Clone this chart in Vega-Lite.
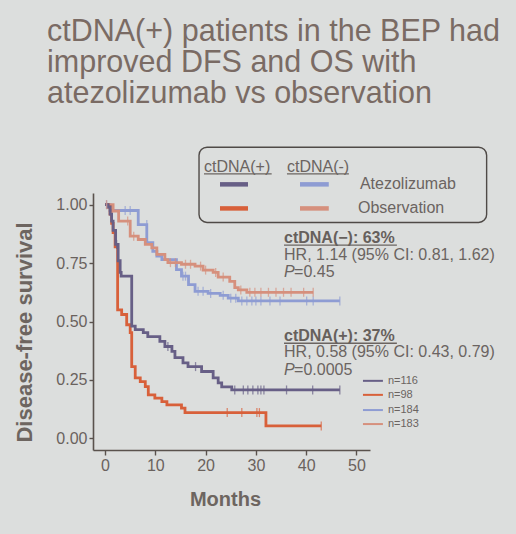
{
  "$schema": "https://vega.github.io/schema/vega-lite/v6.json",
  "width": 277,
  "height": 257,
  "autosize": "none",
  "padding": {"left": 93, "top": 193, "right": 146, "bottom": 84},
  "background": "#dcdedd",
  "config": {"view": {"stroke": null}, "font": "Liberation Sans"},
  "title": {
    "text": ["ctDNA(+) patients in the BEP had", "improved DFS and OS with", "atezolizumab vs observation"],
    "anchor": "start",
    "frame": "group",
    "dx": -46,
    "offset": 37,
    "fontSize": 30.5,
    "fontWeight": "normal",
    "lineHeight": 31,
    "color": "#7a6b64",
    "font": "Liberation Sans"
  },
  "datasets": {
    "km": [
      {"g": "ba", "t": 0, "s": 1}, {"g": "ba", "t": 1.0, "s": 0.975}, {"g": "ba", "t": 6.6, "s": 0.915}, {"g": "ba", "t": 8.3, "s": 0.838},
      {"g": "ba", "t": 9.5, "s": 0.8}, {"g": "ba", "t": 10.3, "s": 0.78}, {"g": "ba", "t": 11.3, "s": 0.765}, {"g": "ba", "t": 14.2, "s": 0.722},
      {"g": "ba", "t": 15.2, "s": 0.694}, {"g": "ba", "t": 16.6, "s": 0.658}, {"g": "ba", "t": 17.9, "s": 0.629}, {"g": "ba", "t": 20.5, "s": 0.62},
      {"g": "ba", "t": 22.9, "s": 0.612}, {"g": "ba", "t": 24.5, "s": 0.6}, {"g": "ba", "t": 26.5, "s": 0.588}, {"g": "ba", "t": 46.7, "s": 0.588},
      {"g": "so", "t": 0, "s": 1}, {"g": "so", "t": 1.6, "s": 0.973}, {"g": "so", "t": 2.7, "s": 0.93}, {"g": "so", "t": 5.0, "s": 0.865},
      {"g": "so", "t": 6.6, "s": 0.851}, {"g": "so", "t": 8.0, "s": 0.83}, {"g": "so", "t": 9.3, "s": 0.815}, {"g": "so", "t": 10.3, "s": 0.787},
      {"g": "so", "t": 11.9, "s": 0.765}, {"g": "so", "t": 12.5, "s": 0.752}, {"g": "so", "t": 15.2, "s": 0.745}, {"g": "so", "t": 17.9, "s": 0.737},
      {"g": "so", "t": 19.5, "s": 0.72}, {"g": "so", "t": 21.5, "s": 0.71}, {"g": "so", "t": 22.5, "s": 0.69}, {"g": "so", "t": 24.8, "s": 0.672},
      {"g": "so", "t": 25.8, "s": 0.645}, {"g": "so", "t": 26.5, "s": 0.635}, {"g": "so", "t": 28.2, "s": 0.625}, {"g": "so", "t": 41.4, "s": 0.625},
      {"g": "ro", "t": 0, "s": 1}, {"g": "ro", "t": 0.6, "s": 0.99}, {"g": "ro", "t": 1.0, "s": 0.96}, {"g": "ro", "t": 1.3, "s": 0.92},
      {"g": "ro", "t": 1.6, "s": 0.88}, {"g": "ro", "t": 2.0, "s": 0.82}, {"g": "ro", "t": 2.5, "s": 0.55}, {"g": "ro", "t": 3.3, "s": 0.53},
      {"g": "ro", "t": 4.3, "s": 0.486}, {"g": "ro", "t": 5.0, "s": 0.452}, {"g": "ro", "t": 5.3, "s": 0.307}, {"g": "ro", "t": 6.0, "s": 0.259},
      {"g": "ro", "t": 7.0, "s": 0.243}, {"g": "ro", "t": 8.0, "s": 0.221}, {"g": "ro", "t": 8.6, "s": 0.186}, {"g": "ro", "t": 9.9, "s": 0.172},
      {"g": "ro", "t": 11.3, "s": 0.157}, {"g": "ro", "t": 12.3, "s": 0.143}, {"g": "ro", "t": 15.2, "s": 0.129}, {"g": "ro", "t": 15.9, "s": 0.11},
      {"g": "ro", "t": 32.0, "s": 0.053}, {"g": "ro", "t": 43.0, "s": 0.053},
      {"g": "pa", "t": 0, "s": 1}, {"g": "pa", "t": 0.6, "s": 0.99}, {"g": "pa", "t": 1.0, "s": 0.96}, {"g": "pa", "t": 1.3, "s": 0.93},
      {"g": "pa", "t": 1.6, "s": 0.89}, {"g": "pa", "t": 2.1, "s": 0.83}, {"g": "pa", "t": 2.6, "s": 0.76}, {"g": "pa", "t": 3.0, "s": 0.71},
      {"g": "pa", "t": 3.2, "s": 0.694}, {"g": "pa", "t": 5.3, "s": 0.48}, {"g": "pa", "t": 6.0, "s": 0.465}, {"g": "pa", "t": 7.6, "s": 0.452},
      {"g": "pa", "t": 8.5, "s": 0.435}, {"g": "pa", "t": 10.9, "s": 0.415}, {"g": "pa", "t": 11.9, "s": 0.393}, {"g": "pa", "t": 13.3, "s": 0.372},
      {"g": "pa", "t": 13.9, "s": 0.345}, {"g": "pa", "t": 15.5, "s": 0.323}, {"g": "pa", "t": 16.5, "s": 0.307}, {"g": "pa", "t": 19.2, "s": 0.286},
      {"g": "pa", "t": 21.5, "s": 0.259}, {"g": "pa", "t": 22.5, "s": 0.237}, {"g": "pa", "t": 23.2, "s": 0.22}, {"g": "pa", "t": 25.2, "s": 0.207},
      {"g": "pa", "t": 46.7, "s": 0.207}
    ],
    "censored": [
      {"g": "ba", "t": 0.3, "s": 1}, {"g": "ba", "t": 4, "s": 0.975}, {"g": "ba", "t": 5, "s": 0.975}, {"g": "ba", "t": 8.3, "s": 0.915},
      {"g": "ba", "t": 15.5, "s": 0.694}, {"g": "ba", "t": 16, "s": 0.694}, {"g": "ba", "t": 18.5, "s": 0.629}, {"g": "ba", "t": 19.5, "s": 0.629},
      {"g": "ba", "t": 21, "s": 0.62}, {"g": "ba", "t": 23.5, "s": 0.612}, {"g": "ba", "t": 25, "s": 0.6}, {"g": "ba", "t": 26, "s": 0.6},
      {"g": "ba", "t": 27.2, "s": 0.588}, {"g": "ba", "t": 28.2, "s": 0.588}, {"g": "ba", "t": 29.2, "s": 0.588}, {"g": "ba", "t": 30, "s": 0.588},
      {"g": "ba", "t": 31, "s": 0.588}, {"g": "ba", "t": 32.8, "s": 0.588}, {"g": "ba", "t": 34.8, "s": 0.588}, {"g": "ba", "t": 40.1, "s": 0.588},
      {"g": "ba", "t": 41.4, "s": 0.588}, {"g": "ba", "t": 46.7, "s": 0.588},
      {"g": "so", "t": 0.3, "s": 1}, {"g": "so", "t": 4.5, "s": 0.93}, {"g": "so", "t": 5.7, "s": 0.865}, {"g": "so", "t": 13, "s": 0.752},
      {"g": "so", "t": 14, "s": 0.752}, {"g": "so", "t": 16, "s": 0.745}, {"g": "so", "t": 17, "s": 0.745}, {"g": "so", "t": 19, "s": 0.737},
      {"g": "so", "t": 20, "s": 0.72}, {"g": "so", "t": 22, "s": 0.71}, {"g": "so", "t": 23.5, "s": 0.69}, {"g": "so", "t": 27, "s": 0.635},
      {"g": "so", "t": 28.8, "s": 0.625}, {"g": "so", "t": 29.8, "s": 0.625}, {"g": "so", "t": 31, "s": 0.625}, {"g": "so", "t": 32.5, "s": 0.625},
      {"g": "so", "t": 34, "s": 0.625}, {"g": "so", "t": 35.5, "s": 0.625}, {"g": "so", "t": 37, "s": 0.625}, {"g": "so", "t": 39.5, "s": 0.625},
      {"g": "so", "t": 41.4, "s": 0.625},
      {"g": "ro", "t": 24.3, "s": 0.11}, {"g": "ro", "t": 27.2, "s": 0.11}, {"g": "ro", "t": 30.2, "s": 0.11}, {"g": "ro", "t": 30.7, "s": 0.11},
      {"g": "ro", "t": 43, "s": 0.053},
      {"g": "pa", "t": 2.3, "s": 0.83}, {"g": "pa", "t": 12.5, "s": 0.393}, {"g": "pa", "t": 18, "s": 0.307}, {"g": "pa", "t": 25.8, "s": 0.207},
      {"g": "pa", "t": 27.5, "s": 0.207}, {"g": "pa", "t": 28.4, "s": 0.207}, {"g": "pa", "t": 29.4, "s": 0.207}, {"g": "pa", "t": 30.4, "s": 0.207},
      {"g": "pa", "t": 31, "s": 0.207}, {"g": "pa", "t": 31.6, "s": 0.207}, {"g": "pa", "t": 36.1, "s": 0.207}, {"g": "pa", "t": 41.3, "s": 0.207},
      {"g": "pa", "t": 46.7, "s": 0.207}
    ],
    "heads": [
      {"t": 35.6, "s": 0.838, "label": "ctDNA(−): 63%"},
      {"t": 35.6, "s": 0.418, "label": "ctDNA(+): 37%"}
    ],
    "notes": [
      {"t": 35.6, "s": 0.762, "label": "HR, 1.14 (95% CI: 0.81, 1.62)"},
      {"t": 37.6, "s": 0.689, "label": "=0.45"},
      {"t": 35.6, "s": 0.349, "label": "HR, 0.58 (95% CI: 0.43, 0.79)"},
      {"t": 37.6, "s": 0.272, "label": "=0.0005"}
    ],
    "pvals": [
      {"t": 35.6, "s": 0.689, "label": "P"},
      {"t": 35.6, "s": 0.272, "label": "P"}
    ],
    "underlines": [
      {"t": 35.6, "t2": 58.05, "s": 0.827},
      {"t": 35.6, "t2": 58.05, "s": 0.407},
      {"t": 19.68, "t2": 33.14, "s": 1.132},
      {"t": 36.18, "t2": 48.5, "s": 1.132}
    ],
    "box": [{"t": 18.69, "t2": 75.9, "s": 1.2459, "s2": 0.924}],
    "keyText": [
      {"t": 19.68, "s": 1.139, "label": "ctDNA(+)"},
      {"t": 36.18, "s": 1.139, "label": "ctDNA(-)"},
      {"t": 50.7, "s": 1.066, "label": "Atezolizumab"},
      {"t": 50.3, "s": 0.963, "label": "Observation"}
    ],
    "swatches": [
      {"g": "pa", "t": 22.86, "t2": 28.43, "s": 1.087},
      {"g": "ba", "t": 38.77, "t2": 44.5, "s": 1.087},
      {"g": "ro", "t": 22.86, "t2": 28.43, "s": 0.984},
      {"g": "so", "t": 38.77, "t2": 44.5, "s": 0.984}
    ],
    "counts": [
      {"g": "pa", "t": 51.3, "t2": 55.27, "tx": 56.26, "s": 0.246, "label": "n=116"},
      {"g": "ro", "t": 51.3, "t2": 55.27, "tx": 56.26, "s": 0.186, "label": "n=98"},
      {"g": "ba", "t": 51.3, "t2": 55.27, "tx": 56.26, "s": 0.121, "label": "n=184"},
      {"g": "so", "t": 51.3, "t2": 55.27, "tx": 56.26, "s": 0.061, "label": "n=183"}
    ]
  },
  "layer": [
    {
      "data": {"name": "km"},
      "mark": {"type": "line", "interpolate": "step-after", "strokeWidth": 2.8},
      "encoding": {
        "x": {
          "field": "t", "type": "quantitative",
          "scale": {"domain": [-2.4, 52.7], "nice": false, "zero": false},
          "axis": {
            "title": "Months", "values": [0, 10, 20, 30, 40, 50], "grid": false,
            "domainColor": "#5a524d", "domainWidth": 1.6, "tickColor": "#5a524d", "tickWidth": 1.4, "tickSize": 5,
            "labelFont": "Liberation Sans", "labelFontSize": 16, "labelColor": "#6a625d", "labelPadding": 2,
            "titleFont": "Liberation Sans", "titleFontSize": 20, "titleFontWeight": "bold", "titleColor": "#6d6560",
            "titleX": 132, "titleY": 55, "titleBaseline": "alphabetic", "titleAlign": "center"
          }
        },
        "y": {
          "field": "s", "type": "quantitative",
          "scale": {"domain": [-0.05, 1.05], "nice": false, "zero": false},
          "axis": {
            "title": "Disease-free survival", "values": [0, 0.25, 0.5, 0.75, 1], "format": ".2f", "grid": false,
            "domainColor": "#5a524d", "domainWidth": 1.6, "tickColor": "#5a524d", "tickWidth": 1.4, "tickSize": 4,
            "labelFont": "Liberation Sans", "labelFontSize": 16, "labelColor": "#6a625d", "labelPadding": 2,
            "titleFont": "Liberation Sans", "titleFontSize": 22, "titleFontWeight": "bold", "titleColor": "#6d6560",
            "titleX": -69, "titleY": 139, "titleBaseline": "middle", "titleAlign": "center", "titleAngle": -90
          }
        },
        "color": {
          "field": "g", "type": "nominal", "legend": null,
          "scale": {"domain": ["pa", "ro", "ba", "so"], "range": ["#675f86", "#d8603a", "#8e9cd3", "#d6907d"]}
        },
        "order": {"field": "t", "type": "quantitative"}
      }
    },
    {
      "data": {"name": "censored"},
      "mark": {"type": "tick", "orient": "vertical", "thickness": 1.3, "size": 9},
      "encoding": {
        "x": {"field": "t", "type": "quantitative"},
        "y": {"field": "s", "type": "quantitative"},
        "color": {"field": "g", "type": "nominal", "legend": null}
      }
    },
    {
      "data": {"name": "box"},
      "mark": {"type": "rect", "fill": null, "stroke": "#4f4a47", "strokeWidth": 1.4, "cornerRadius": 8},
      "encoding": {
        "x": {"field": "t", "type": "quantitative"},
        "x2": {"field": "t2"},
        "y": {"field": "s", "type": "quantitative"},
        "y2": {"field": "s2"}
      }
    },
    {
      "data": {"name": "swatches"},
      "mark": {"type": "rule", "strokeWidth": 4.5},
      "encoding": {
        "x": {"field": "t", "type": "quantitative"},
        "x2": {"field": "t2"},
        "y": {"field": "s", "type": "quantitative"},
        "color": {"field": "g", "type": "nominal", "legend": null}
      }
    },
    {
      "data": {"name": "counts"},
      "mark": {"type": "rule", "strokeWidth": 2},
      "encoding": {
        "x": {"field": "t", "type": "quantitative"},
        "x2": {"field": "t2"},
        "y": {"field": "s", "type": "quantitative"},
        "color": {"field": "g", "type": "nominal", "legend": null}
      }
    },
    {
      "data": {"name": "counts"},
      "mark": {"type": "text", "align": "left", "baseline": "middle", "fontSize": 11, "font": "Liberation Sans", "color": "#6b6461"},
      "encoding": {
        "x": {"field": "tx", "type": "quantitative"},
        "y": {"field": "s", "type": "quantitative"},
        "text": {"field": "label"}
      }
    },
    {
      "data": {"name": "keyText"},
      "mark": {"type": "text", "align": "left", "baseline": "alphabetic", "fontSize": 16, "font": "Liberation Sans", "color": "#6b6461"},
      "encoding": {
        "x": {"field": "t", "type": "quantitative"},
        "y": {"field": "s", "type": "quantitative"},
        "text": {"field": "label"}
      }
    },
    {
      "data": {"name": "underlines"},
      "mark": {"type": "rule", "strokeWidth": 1.3, "color": "#6b6461"},
      "encoding": {
        "x": {"field": "t", "type": "quantitative"},
        "x2": {"field": "t2"},
        "y": {"field": "s", "type": "quantitative"}
      }
    },
    {
      "data": {"name": "heads"},
      "mark": {"type": "text", "align": "left", "baseline": "alphabetic", "fontSize": 16, "fontWeight": "bold", "font": "Liberation Sans", "color": "#66605c"},
      "encoding": {
        "x": {"field": "t", "type": "quantitative"},
        "y": {"field": "s", "type": "quantitative"},
        "text": {"field": "label"}
      }
    },
    {
      "data": {"name": "notes"},
      "mark": {"type": "text", "align": "left", "baseline": "alphabetic", "fontSize": 16, "font": "Liberation Sans", "color": "#6b6461"},
      "encoding": {
        "x": {"field": "t", "type": "quantitative"},
        "y": {"field": "s", "type": "quantitative"},
        "text": {"field": "label"}
      }
    },
    {
      "data": {"name": "pvals"},
      "mark": {"type": "text", "align": "left", "baseline": "alphabetic", "fontSize": 16, "fontStyle": "italic", "font": "Liberation Sans", "color": "#6b6461"},
      "encoding": {
        "x": {"field": "t", "type": "quantitative"},
        "y": {"field": "s", "type": "quantitative"},
        "text": {"field": "label"}
      }
    }
  ]
}
